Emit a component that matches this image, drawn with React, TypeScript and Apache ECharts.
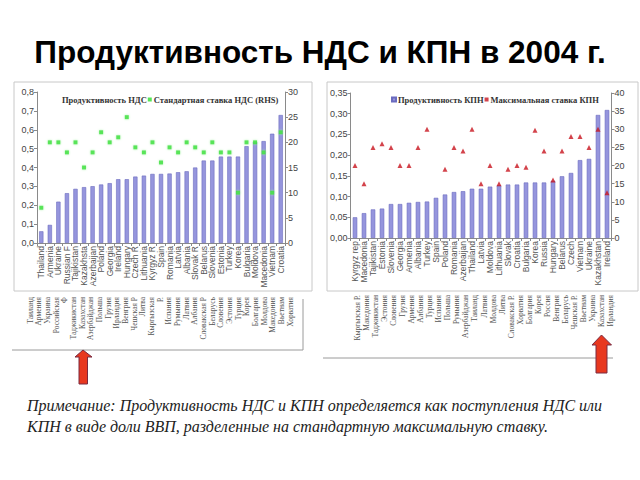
import React, { useEffect, useRef } from "react";
import * as echarts from "echarts";

const vatCountries = ["Thailand","Armenia","Ukraine","Russian F","Tajikistan","Kazakhsta","Azerbaijan","Poland","Georgia","Ireland","Hungary","Czech R","Lithuania","Kyrgyz R","Spain","Romania","Latvia","Albania","Slovak R","Belarus","Slovenia","Estonia","Turkey","Korea","Bulgaria","Moldova","Macedonia","Vietnam","Croatia"];
const vatProductivity = [0.062,0.096,0.219,0.264,0.287,0.296,0.301,0.31,0.317,0.338,0.338,0.352,0.357,0.366,0.366,0.368,0.375,0.38,0.4,0.437,0.437,0.458,0.458,0.458,0.513,0.536,0.54,0.579,0.678];
const vatRate = [7,20,20,18,20,15,18,22,20,21,25,19,18,20,16,19,18,20,19,18,20,18,18,10,20,20,18,10,22];
const vatLabelsRu = ["Таиланд","Армения","Украина","Российская","Ф","Таджикистан","Казахстан","Азербайджан","Польша","Грузия","Ирландия","Венгрия","Чешская Р","Литва","Кыргызская","Р.","Испания","Румыния","Латвия","Албания","Словакская Р","Беларусь","Словения","Эстония","Турция","Корея","Болгария","Молдова","Македония","Вьетнам","Хорватия"];

const citCountries = ["Kyrgyz rep","Macedonia","Tajikistan","Estonia","Slovenia","Georgia","Armenia","Albania","Turkey","Spain","Poland","Romania","Azerbaijan","Thailand","Latvia","Moldova","Lithuania","Slovak","Croatia","Bulgaria","Korea","Russia","Hungary","Belarus","Czech","Vietnam","Ukraine","Kazakhstan","Ireland"];
const citProductivity = [0.05,0.06,0.069,0.071,0.082,0.082,0.085,0.087,0.088,0.097,0.105,0.111,0.113,0.119,0.119,0.124,0.127,0.129,0.129,0.134,0.134,0.134,0.138,0.149,0.157,0.188,0.191,0.297,0.309];
const citRate = [20,15,25,26,25,20,20,25,30,null,19,25,24,30,15,20,15,19,20,19.5,29.7,24,16,24,28,28,25,30,12.5];
const citLabelsRu = ["Кыргызская Р.","Македония","Таджикистан","Эстония","Словения","Грузия","Армения","Албания","Турция","Испания","Польша","Румыния","Азербайджан","Таиланд","Латвия","Молдова","Литва","Словакская Р.","Хорватия","Болгария","Корея","Россия","Венгрия","Беларусь","Чешская Р.","Вьетнам","Украина","Казахстан","Ирландия"];

const titleText = "Продуктивность НДС и КПН в 2004 г.";
const noteLine1 = "Примечание: Продуктивность НДС и КПН определяется как поступления НДС или";
const noteLine2 = "КПН в виде доли ВВП, разделенные на стандартную максимальную ставку.";

const SANS = "Liberation Sans, Arial, sans-serif";
const SERIF = "Liberation Serif, Times New Roman, serif";
const AXIS_COLOR = "#8a8a8a";
const LABEL_COLOR = "#444";
const BAR_COLOR = "#9595dd";
const BAR_BORDER = "#6b6bbf";

function catAxis(data: string[], gridIndex: number, extra: any = {}) {
  return {
    type: "category",
    gridIndex,
    data,
    axisLine: { show: true, lineStyle: { color: AXIS_COLOR } },
    axisTick: { show: true, length: 3, lineStyle: { color: AXIS_COLOR } },
    axisLabel: {
      interval: 0,
      rotate: 90,
      fontFamily: SANS,
      fontSize: 8.5,
      color: "#555",
      margin: 3,
    },
    ...extra,
  };
}

function valAxis(gridIndex: number, position: string, max: number, interval: number, digits: number) {
  return {
    type: "value",
    gridIndex,
    position,
    min: 0,
    max,
    interval,
    splitLine: { show: false },
    axisLine: { show: true, lineStyle: { color: AXIS_COLOR } },
    axisTick: { show: true, length: 3, lineStyle: { color: AXIS_COLOR } },
    axisLabel: {
      fontFamily: SANS,
      fontSize: 9,
      color: LABEL_COLOR,
      margin: 3,
      formatter: (v: number) => v.toFixed(digits).replace(".", ","),
    },
  };
}

function ruAxis(data: string[], gridIndex: number) {
  return {
    type: "category",
    gridIndex,
    data,
    axisLine: { show: false },
    axisTick: { show: false },
    axisLabel: {
      interval: 0,
      rotate: 90,
      fontFamily: SERIF,
      fontSize: 7.5,
      color: "#555",
      margin: 2,
    },
  };
}

export default function App() {
  const ref = useRef<HTMLDivElement>(null);
  useEffect(() => {
    if (!ref.current) return;
    const chart = echarts.init(ref.current, null, { renderer: "svg" });
    const option: any = {
      animation: false,
      backgroundColor: "#fff",
      grid: [
        { left: 37, top: 92, width: 248, height: 151 },
        { left: 350.5, top: 93, width: 261, height: 145 },
        { left: 25.7, top: 280, width: 268.7, height: 15 },
        { left: 352.5, top: 278, width: 263, height: 15 },
      ],
      legend: [
        {
          left: 56,
          top: 95,
          itemWidth: 4,
          itemHeight: 4,
          itemGap: 1,
          padding: 0,
          textStyle: { fontFamily: SERIF, fontWeight: "bold", fontSize: 8.5, color: "#333", padding: [0, 0, 0, -3] },
          data: [
            { name: "Продуктивность НДС", icon: "none" },
            { name: "Стандартная ставка НДС (RHS)", icon: "rect" },
          ],
        },
        {
          left: 391,
          top: 95,
          itemWidth: 4,
          itemHeight: 4,
          itemGap: 1,
          padding: 0,
          textStyle: { fontFamily: SERIF, fontWeight: "bold", fontSize: 8.5, color: "#333", padding: [0, 0, 0, -3] },
          data: [
            { name: "Продуктивность КПН", icon: "rect" },
            { name: "Максимальная ставка КПН", icon: "rect" },
          ],
        },
      ],
      xAxis: [
        catAxis(vatCountries, 0),
        catAxis(citCountries, 1),
        ruAxis(vatLabelsRu, 2),
        ruAxis(citLabelsRu, 3),
      ],
      yAxis: [
        valAxis(0, "left", 0.8, 0.1, 1),
        valAxis(0, "right", 30, 5, 0),
        valAxis(1, "left", 0.35, 0.05, 2),
        valAxis(1, "right", 40, 5, 0),
        { type: "value", gridIndex: 2, show: false, min: 0, max: 1 },
        { type: "value", gridIndex: 3, show: false, min: 0, max: 1 },
      ],
      series: [
        {
          name: "Продуктивность НДС",
          type: "bar",
          xAxisIndex: 0,
          yAxisIndex: 0,
          barWidth: "50%",
          itemStyle: { color: BAR_COLOR, borderColor: BAR_BORDER, borderWidth: 0.6 },
          data: vatProductivity,
        },
        {
          name: "Стандартная ставка НДС (RHS)",
          type: "scatter",
          xAxisIndex: 0,
          yAxisIndex: 1,
          symbol: "rect",
          symbolSize: 4,
          itemStyle: { color: "#2de02d", shadowColor: "#9ef09e", shadowBlur: 2 },
          data: vatRate,
        },
        {
          name: "Продуктивность КПН",
          type: "bar",
          xAxisIndex: 1,
          yAxisIndex: 2,
          barWidth: "50%",
          itemStyle: { color: BAR_COLOR, borderColor: BAR_BORDER, borderWidth: 0.6 },
          data: citProductivity,
        },
        {
          name: "Максимальная ставка КПН",
          type: "scatter",
          xAxisIndex: 1,
          yAxisIndex: 3,
          symbol: "triangle",
          symbolSize: 5,
          itemStyle: { color: "#c8141e" },
          data: citRate,
        },
      ],
      graphic: [
        {
          type: "text",
          x: 320,
          y: 52,
          style: {
            text: titleText,
            fontFamily: SANS,
            fontWeight: "bold",
            fontSize: 31.5,
            fill: "#000",
            textAlign: "center",
            textVerticalAlign: "middle",
          },
        },
        { type: "rect", shape: { x: 14, y: 82, width: 298, height: 209 }, style: { fill: "none", stroke: "#c8c8c8", lineWidth: 1 } },
        { type: "rect", shape: { x: 327, y: 82, width: 311, height: 209 }, style: { fill: "none", stroke: "#c8c8c8", lineWidth: 1 } },
        { type: "line", shape: { x1: 12, y1: 350, x2: 303, y2: 350 }, style: { stroke: "#9a9a9a", lineWidth: 1 } },
        { type: "line", shape: { x1: 303, y1: 299, x2: 303, y2: 350 }, style: { stroke: "#9a9a9a", lineWidth: 1 } },
        { type: "line", shape: { x1: 323, y1: 358, x2: 613, y2: 358 }, style: { stroke: "#9a9a9a", lineWidth: 1 } },
        {
          type: "polygon",
          shape: { points: [[83, 350], [75, 357], [79, 357], [79, 384], [87.5, 384], [87.5, 357], [92, 357]] },
          style: { fill: "#e8381f", stroke: "#7a2a40", lineWidth: 1 },
        },
        {
          type: "polygon",
          shape: { points: [[601.5, 335], [592, 345], [596, 345], [596, 373], [607, 373], [607, 345], [611.5, 345]] },
          style: { fill: "#e8381f", stroke: "#7a2a40", lineWidth: 1 },
        },
        {
          type: "text",
          x: 27,
          y: 405,
          style: { text: noteLine1, fontFamily: SERIF, fontStyle: "italic", fontSize: 16, fill: "#222", textVerticalAlign: "middle" },
        },
        {
          type: "text",
          x: 27,
          y: 426,
          style: { text: noteLine2, fontFamily: SERIF, fontStyle: "italic", fontSize: 16, fill: "#222", textVerticalAlign: "middle" },
        },
      ],
    };
    chart.setOption(option);
    return () => chart.dispose();
  }, []);
  return (
    <div
      ref={ref}
      style={{ position: "absolute", left: 0, top: 0, width: 640, height: 480, background: "#fff" }}
    />
  );
}
